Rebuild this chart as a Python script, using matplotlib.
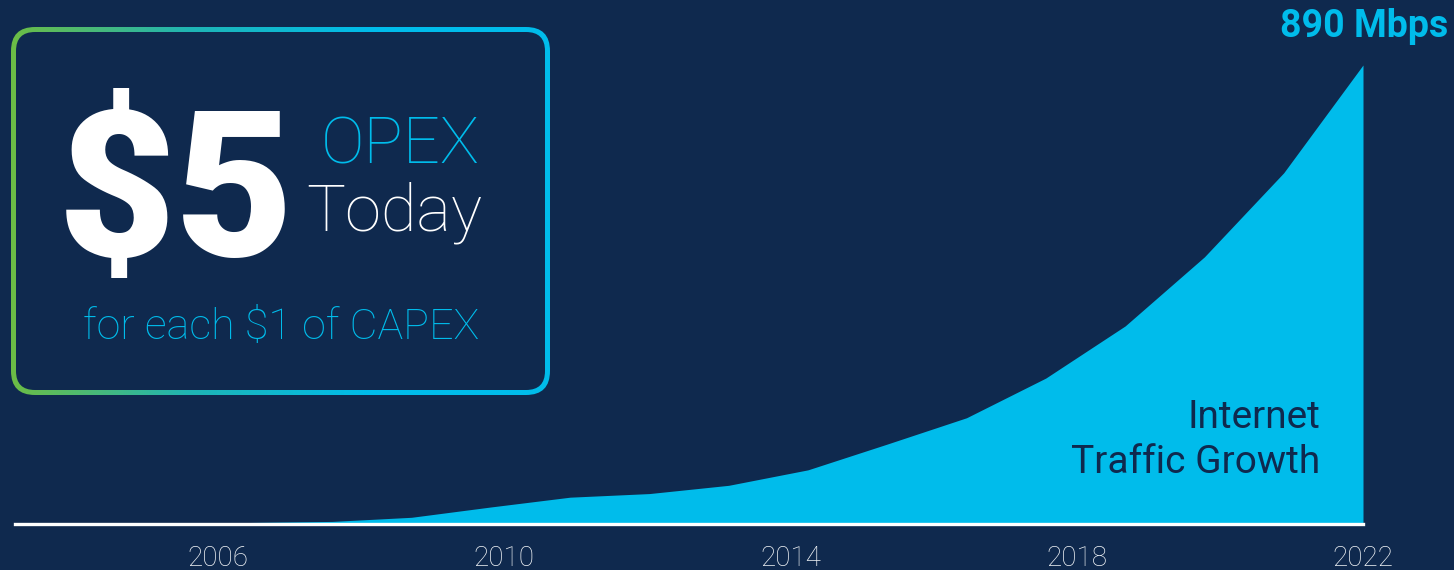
import matplotlib.pyplot as plt
import numpy as np
from matplotlib.patches import FancyBboxPatch
from matplotlib.colors import LinearSegmentedColormap

# Internet traffic (Mbps), 18 evenly spaced samples ending in 2022
traffic = [0, 0, 0, 3, 5, 13, 33, 52, 59, 75, 105, 155, 206, 283, 384, 518, 681, 890]
tick_pos = [2.56, 6.17, 9.78, 13.39, 17]
tick_labels = ["2006", "2010", "2014", "2018", "2022"]

bg = "#0f294e"
cyan = "#00bceb"
green = "#6cbd45"

W, H = 1454, 570
fig = plt.figure(figsize=(W / 100, H / 100), dpi=100, facecolor=bg)

# main chart
ax = fig.add_axes([15 / W, 46 / H, 1348 / W, 459 / H])
ax.set_facecolor(bg)
x = np.arange(len(traffic))
ax.fill_between(x, traffic, 0, color=cyan, linewidth=0)
ax.set_xlim(0, len(traffic) - 1)
ax.set_ylim(0, max(traffic))
for s in ["top", "left", "right"]:
    ax.spines[s].set_visible(False)
ax.spines["bottom"].set_color("white")
ax.spines["bottom"].set_linewidth(2.4)
ax.set_yticks([])
ax.set_xticks(tick_pos)
ax.set_xticklabels(tick_labels, fontsize=20, color="#f2f5f8",
                   family=["Roboto", "DejaVu Sans"], fontweight="light")
ax.tick_params(axis="x", length=0, pad=15)

# overlay in pixel coordinates for the callouts
ov = fig.add_axes([0, 0, 1, 1])
ov.set_xlim(0, W)
ov.set_ylim(H, 0)
ov.axis("off")
ov.patch.set_alpha(0)

# gradient rounded box
outer = FancyBboxPatch((11 + 24, 27 + 24), 539 - 48, 368 - 48,
                       boxstyle="round,pad=24", transform=ov.transData,
                       facecolor="none", edgecolor="none")
ov.add_patch(outer)
grad = np.linspace(0, 1, 256).reshape(1, -1)
cmap = LinearSegmentedColormap.from_list("g", [green, "#1fb5b5", cyan, cyan])
im = ov.imshow(grad, extent=(11, 550, 395, 27), cmap=cmap, aspect="auto", zorder=1)
im.set_clip_path(outer)
inner = FancyBboxPatch((16 + 19, 32 + 19), 529 - 38, 358 - 38,
                       boxstyle="round,pad=19", transform=ov.transData,
                       facecolor=bg, edgecolor="none", zorder=2)
ov.add_patch(inner)
ov.set_xlim(0, W)
ov.set_ylim(H, 0)

rob = ["Roboto", "DejaVu Sans"]
ov.text(58, 256, "$5", fontsize=147, fontweight="heavy", color="white",
        family=rob, va="baseline", ha="left", zorder=3)
ov.text(480, 163, "OPEX", fontsize=47, fontweight="light", color=cyan,
        family=rob, va="baseline", ha="right", zorder=3)
ov.text(482, 231, "Today", fontsize=47, fontweight="light", color="white",
        family=rob, va="baseline", ha="right", zorder=3)
ov.text(281, 339, "for each $1 of CAPEX", fontsize=31, fontweight="light",
        color=cyan, family=rob, va="baseline", ha="center", zorder=3)

ov.text(1448, 37, "890 Mbps", fontsize=27, fontweight="bold", color=cyan,
        family=rob, va="baseline", ha="right", zorder=3)
ov.text(1320, 428, "Internet", fontsize=28, color=bg, family=rob,
        va="baseline", ha="right", zorder=3)
ov.text(1320, 473, "Traffic Growth", fontsize=28, color=bg, family=rob,
        va="baseline", ha="right", zorder=3)

fig.savefig("out.png", dpi=100, facecolor=bg)
